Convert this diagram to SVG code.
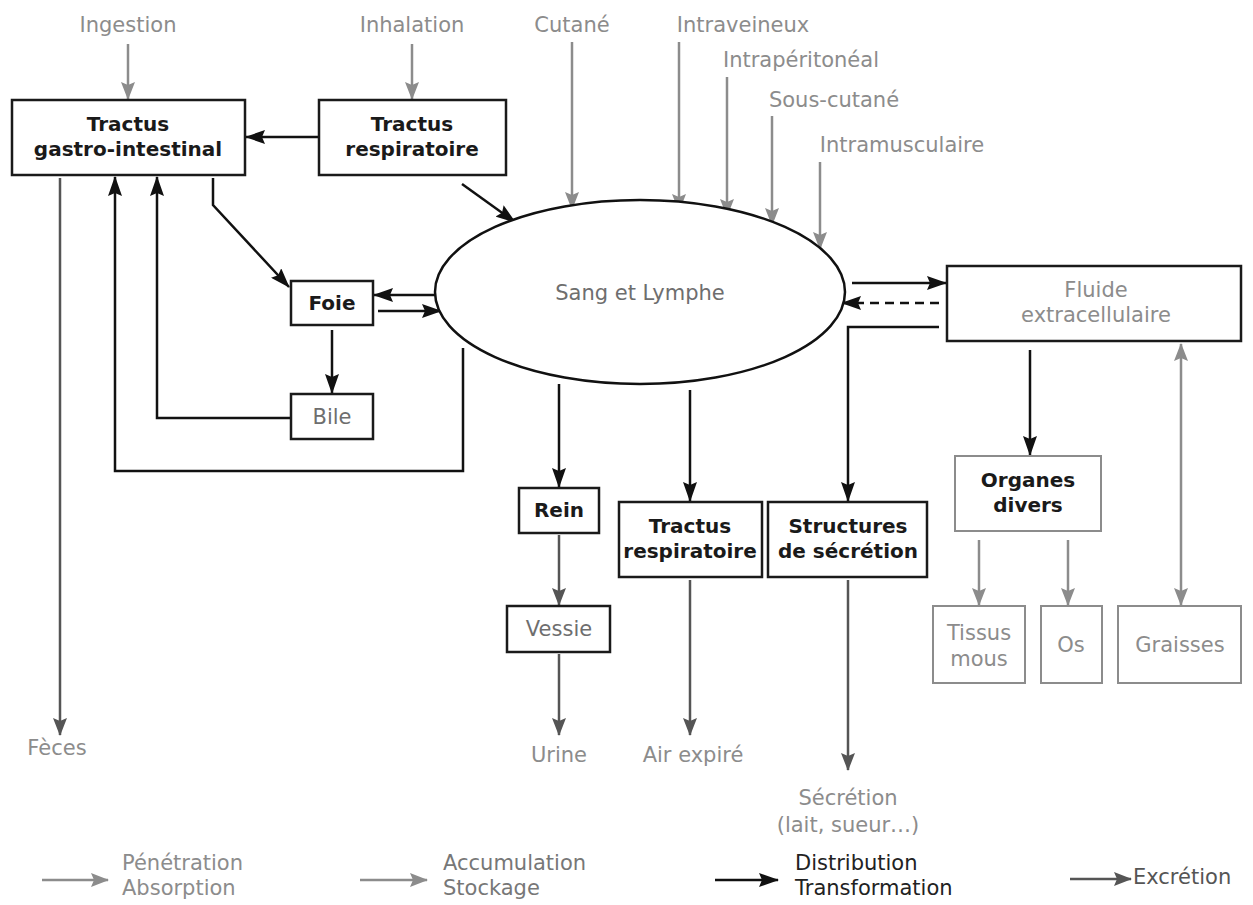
<svg xmlns="http://www.w3.org/2000/svg" width="1253" height="905" viewBox="0 0 1253 905">
<style>
text{font-family:"DejaVu Sans","Open Sans","Liberation Sans",sans-serif;font-size:21px;text-anchor:middle}
.lab{fill:#8c8c8c}
.b{font-weight:bold;font-size:20px;fill:#1a1a1a}
.g{fill:#6e6e6e}
.st{text-anchor:start}
.bx{fill:#fff;stroke:#1a1a1a;stroke-width:2.5}
.gbx{fill:#fff;stroke:#8c8c8c;stroke-width:2}
.pen{stroke:#8c8c8c;stroke-width:2.5;fill:none;marker-end:url(#mg)}
.exc{stroke:#555;stroke-width:2.5;fill:none;marker-end:url(#me)}
.dis{stroke:#111;stroke-width:2.5;fill:none;marker-end:url(#mb)}
</style>
<defs>
<marker id="mg" viewBox="0 0 18 14" markerUnits="userSpaceOnUse" markerWidth="18" markerHeight="14" refX="17" refY="7" orient="auto"><path d="M0,0 L18,7 L0,14 L3,7 z" fill="#8c8c8c"/></marker>
<marker id="mgs" viewBox="0 0 18 14" markerUnits="userSpaceOnUse" markerWidth="18" markerHeight="14" refX="1" refY="7" orient="auto"><path d="M18,0 L0,7 L18,14 L15,7 z" fill="#8c8c8c"/></marker>
<marker id="me" viewBox="0 0 18 14" markerUnits="userSpaceOnUse" markerWidth="18" markerHeight="14" refX="17" refY="7" orient="auto"><path d="M0,0 L18,7 L0,14 L3,7 z" fill="#555"/></marker>
<marker id="mb" viewBox="0 0 20 14" markerUnits="userSpaceOnUse" markerWidth="20" markerHeight="14" refX="19" refY="7" orient="auto"><path d="M0,0 L20,7 L0,14 L3,7 z" fill="#111"/></marker>
</defs>

<g id="connectors">
<line class="pen" x1="128" y1="44" x2="128" y2="99"/>
<line class="pen" x1="412" y1="44" x2="412" y2="99"/>
<line class="pen" x1="572" y1="42" x2="572" y2="209"/>
<line class="pen" x1="679" y1="42" x2="679" y2="211"/>
<line class="pen" x1="727" y1="77" x2="727" y2="216"/>
<line class="pen" x1="772" y1="116" x2="772" y2="225"/>
<line class="pen" x1="820" y1="162" x2="820" y2="249"/>
<line class="dis" x1="318" y1="137" x2="246" y2="137"/>
<line class="dis" x1="462" y1="184" x2="515" y2="222"/>
<line class="exc" x1="60" y1="178" x2="60" y2="735"/>
<polyline class="dis" points="213,178 213,205 289,287"/>
<polyline class="dis" points="463,348 463,471 115,471 115,177"/>
<polyline class="dis" points="291,418 157,418 157,177"/>
<line class="dis" x1="436" y1="295" x2="374" y2="295"/>
<line class="dis" x1="378" y1="311" x2="441" y2="311"/>
<line class="dis" x1="332" y1="330" x2="332" y2="393"/>
<line class="dis" x1="559" y1="384" x2="559" y2="487"/>
<line class="dis" x1="690" y1="390" x2="690" y2="501"/>
<polyline class="dis" points="939,327 848,327 848,501"/>
<line class="dis" x1="852" y1="283" x2="946" y2="283"/>
<line class="dis" x1="939" y1="303" x2="842" y2="303" stroke-dasharray="9,6"/>
<line class="dis" x1="1030" y1="350" x2="1030" y2="455"/>
<line class="exc" x1="559" y1="535" x2="559" y2="605"/>
<line class="exc" x1="559" y1="654" x2="559" y2="735"/>
<line class="exc" x1="690" y1="580" x2="690" y2="735"/>
<line class="exc" x1="848" y1="580" x2="848" y2="770"/>
<line class="pen" x1="979" y1="540" x2="979" y2="605"/>
<line class="pen" x1="1068" y1="540" x2="1068" y2="605"/>
<line class="pen" x1="1181" y1="344" x2="1181" y2="605" marker-start="url(#mgs)"/>
</g>

<g id="inputs">
<text class="lab" x="128" y="32">Ingestion</text>
<text class="lab" x="412" y="32">Inhalation</text>
<text class="lab" x="572" y="32">Cutané</text>
<text class="lab" x="743" y="32">Intraveineux</text>
<text class="lab" x="801" y="67">Intrapéritonéal</text>
<text class="lab" x="834" y="107">Sous-cutané</text>
<text class="lab" x="902" y="152">Intramusculaire</text>
</g>

<g id="tractus-gi"><rect class="bx" x="12" y="100" width="233" height="75"/><text class="b" x="128" y="131">Tractus<tspan x="128" dy="25">gastro-intestinal</tspan></text></g>
<g id="tractus-resp"><rect class="bx" x="319" y="100" width="187" height="75"/><text class="b" x="412" y="131">Tractus<tspan x="412" dy="25">respiratoire</tspan></text></g>
<g id="sang"><ellipse cx="640" cy="292" rx="205" ry="92" fill="#fff" stroke="#111" stroke-width="2.5"/><text class="g" x="640" y="300">Sang et Lymphe</text></g>
<g id="foie"><rect class="bx" x="291" y="281" width="82" height="44"/><text class="b" x="332" y="310">Foie</text></g>
<g id="bile"><rect class="bx" x="291" y="394" width="82" height="45" stroke-width="2"/><text class="g" x="332" y="424">Bile</text></g>
<g id="rein"><rect class="bx" x="519" y="488" width="80" height="45"/><text class="b" x="559" y="517">Rein</text></g>
<g id="vessie"><rect class="bx" x="507" y="606" width="103" height="46" stroke="#444"/><text class="g" x="559" y="636">Vessie</text></g>
<g id="tractus-resp-2"><rect class="bx" x="619" y="502" width="143" height="75"/><text class="b" x="690" y="533">Tractus<tspan x="690" dy="25">respiratoire</tspan></text></g>
<g id="structures"><rect class="bx" x="768" y="502" width="159" height="75"/><text class="b" x="848" y="533">Structures<tspan x="848" dy="25">de sécrétion</tspan></text></g>
<g id="fluide"><rect class="bx" x="947" y="266" width="294" height="75" stroke-width="2"/><text class="lab" x="1096" y="297">Fluide<tspan x="1096" dy="25">extracellulaire</tspan></text></g>
<g id="organes"><rect class="gbx" x="955" y="456" width="146" height="75"/><text class="b" x="1028" y="487">Organes<tspan x="1028" dy="25">divers</tspan></text></g>
<g id="tissus"><rect class="gbx" x="933" y="606" width="92" height="77"/><text class="lab" x="979" y="640">Tissus<tspan x="979" dy="26">mous</tspan></text></g>
<g id="os"><rect class="gbx" x="1041" y="606" width="61" height="77"/><text class="lab" x="1071" y="652">Os</text></g>
<g id="graisses"><rect class="gbx" x="1118" y="606" width="123" height="77"/><text class="lab" x="1180" y="652">Graisses</text></g>

<g id="outputs">
<text class="lab" x="57" y="755">Fèces</text>
<text class="lab" x="559" y="762">Urine</text>
<text class="lab" x="693" y="762">Air expiré</text>
<text class="lab" x="848" y="805">Sécrétion<tspan x="848" dy="27">(lait, sueur…)</tspan></text>
</g>

<g id="legend">
<line class="pen" x1="42" y1="880" x2="108" y2="880"/>
<text class="lab st" x="122" y="870">Pénétration<tspan x="122" dy="25">Absorption</tspan></text>
<line class="pen" x1="360" y1="880" x2="427" y2="880"/>
<text class="st" x="443" y="870" fill="#777">Accumulation<tspan x="443" dy="25">Stockage</tspan></text>
<line class="dis" x1="715" y1="880" x2="778" y2="880"/>
<text class="st" x="795" y="870" fill="#222">Distribution<tspan x="795" dy="25">Transformation</tspan></text>
<line class="exc" x1="1070" y1="879" x2="1131" y2="879"/>
<text class="st" x="1133" y="884" fill="#555">Excrétion</text>
</g>
</svg>
